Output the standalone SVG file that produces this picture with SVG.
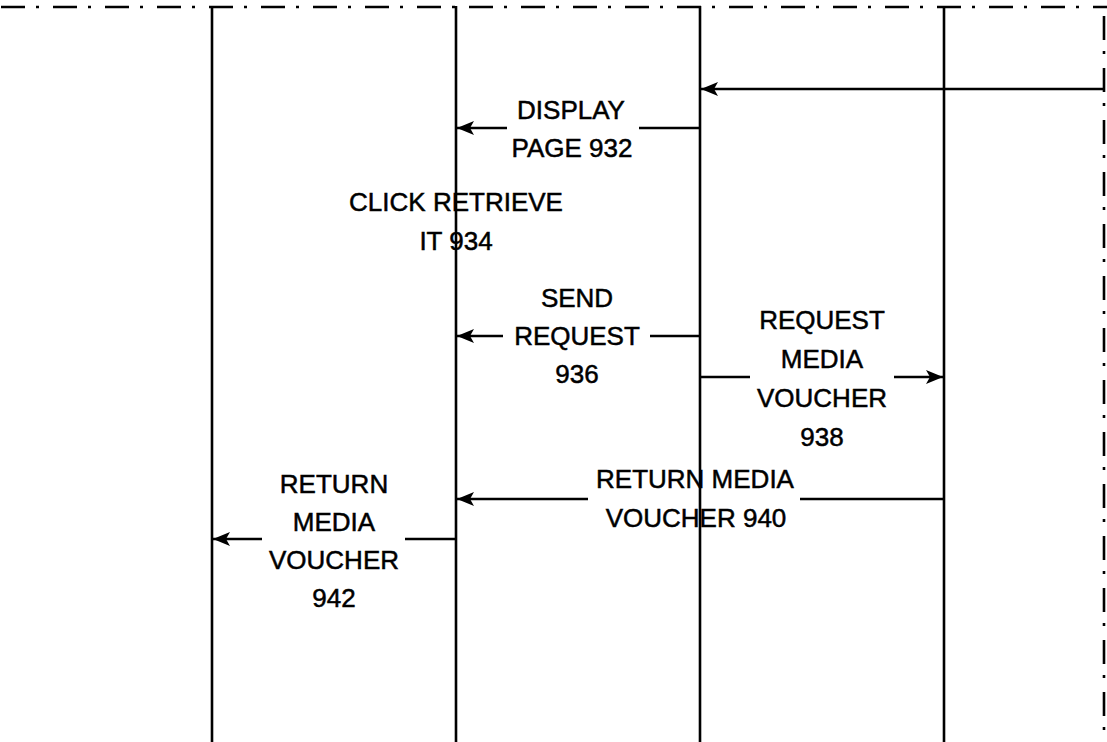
<svg xmlns="http://www.w3.org/2000/svg" width="1107" height="742" viewBox="0 0 1107 742">
<style>
.ll{stroke:#000;stroke-width:2.6;fill:none}
.bd{stroke:#000;stroke-width:2.6;fill:none;stroke-dasharray:24 11 3 14}
.ar{stroke:#000;stroke-width:2.4;fill:none}
.t{font-family:"Liberation Sans",Arial,sans-serif;font-size:26px;fill:#000;stroke:#000;stroke-width:0.5;text-anchor:middle}
</style>
<defs>
<marker id="ah" markerWidth="18" markerHeight="14" refX="17" refY="7" orient="auto" markerUnits="userSpaceOnUse">
<path d="M0,0 L17,7 L0,14 L4,7 Z" fill="#000"/>
</marker>
</defs>
<rect width="1107" height="742" fill="#fff"/>
<g id="frame">
<line class="bd" x1="0" y1="7" x2="1107" y2="7" stroke-dashoffset="-1"/>
<line class="bd" x1="1104" y1="7" x2="1104" y2="742" stroke-dashoffset="-9"/>
</g>
<g id="lifelines">
<line id="l1" class="ll" x1="212" y1="6" x2="212" y2="742"/>
<line id="l2" class="ll" x1="456" y1="6" x2="456" y2="742"/>
<line id="l3" class="ll" x1="700" y1="6" x2="700" y2="742"/>
<line id="l4" class="ll" x1="944" y1="6" x2="944" y2="742"/>
</g>
<g id="connectors">
<line class="ar" x1="1104" y1="89" x2="701" y2="89" marker-end="url(#ah)"/>
<line class="ar" x1="700" y1="128" x2="639" y2="128"/>
<line class="ar" x1="507" y1="128" x2="457" y2="128" marker-end="url(#ah)"/>
<line class="ar" x1="700" y1="336" x2="650" y2="336"/>
<line class="ar" x1="503" y1="336" x2="457" y2="336" marker-end="url(#ah)"/>
<line class="ar" x1="700" y1="377" x2="750" y2="377"/>
<line class="ar" x1="894" y1="377" x2="943" y2="377" marker-end="url(#ah)"/>
<line class="ar" x1="944" y1="499" x2="800" y2="499"/>
<line class="ar" x1="588" y1="499" x2="457" y2="499" marker-end="url(#ah)"/>
<line class="ar" x1="456" y1="539" x2="405" y2="539"/>
<line class="ar" x1="262" y1="539" x2="213" y2="539" marker-end="url(#ah)"/>
</g>
<g id="m932">
<text class="t" x="571" y="119">DISPLAY</text>
<text class="t" x="572" y="157">PAGE 932</text>
</g>
<g id="m934">
<text class="t" x="456" y="211">CLICK RETRIEVE</text>
<text class="t" x="456" y="250">IT 934</text>
</g>
<g id="m936">
<text class="t" x="577" y="307">SEND</text>
<text class="t" x="577" y="345">REQUEST</text>
<text class="t" x="577" y="383">936</text>
</g>
<g id="m938">
<text class="t" x="822" y="329">REQUEST</text>
<text class="t" x="822" y="368">MEDIA</text>
<text class="t" x="822" y="407">VOUCHER</text>
<text class="t" x="822" y="446">938</text>
</g>
<g id="m940">
<text class="t" x="695" y="488">RETURN MEDIA</text>
<text class="t" x="696" y="527">VOUCHER 940</text>
</g>
<g id="m942">
<text class="t" x="334" y="493">RETURN</text>
<text class="t" x="334" y="531">MEDIA</text>
<text class="t" x="334" y="569">VOUCHER</text>
<text class="t" x="334" y="607">942</text>
</g>
</svg>
